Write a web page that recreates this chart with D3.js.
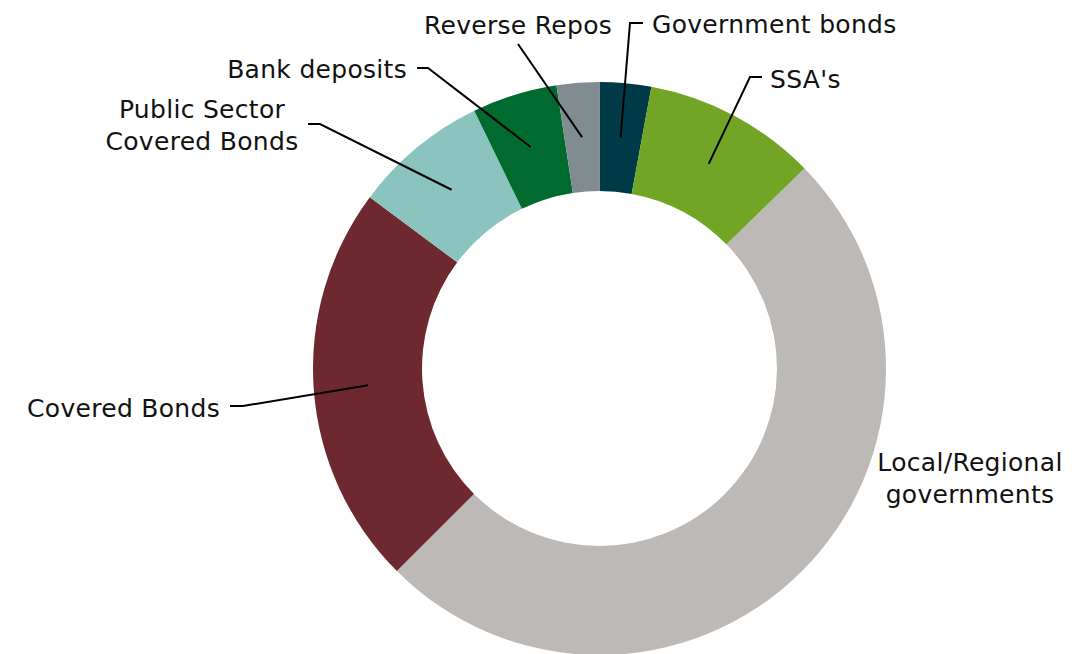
<!DOCTYPE html>
<html>
<head>
<meta charset="utf-8">
<script src="https://cdn.jsdelivr.net/npm/d3@7"></script>
<style>
  html, body { margin: 0; padding: 0; background: #ffffff; }
  svg { display: block; }
  text { font-family: "DejaVu Sans", sans-serif; font-size: 25px; fill: #111111; letter-spacing: 0.3px; }
</style>
</head>
<body>
<svg id="chart" width="1079" height="654"></svg>
<script>
// Data (shares in %, clockwise from 12 o'clock)
const categories = ["Government bonds", "SSA's", "Local/Regional governments", "Covered Bonds",
                    "Public Sector Covered Bonds", "Bank deposits", "Reverse Repos"];
const values = [2.9, 9.8, 49.8, 22.7, 7.6, 4.8, 2.4];
const colors = ["#003a46", "#72a525", "#bcb9b6", "#6e2930", "#8bc3bf", "#016b2f", "#808c90"];

// Label layout (presentation only)
const labelLines = [["Government bonds"], ["SSA's"], ["Local/Regional", "governments"], ["Covered Bonds"],
                    ["Public Sector", "Covered Bonds"], ["Bank deposits"], ["Reverse Repos"]];
const labelPos = [
  {x: 652, y: 33, anchor: "start", elbow: [630, 23], tick: [643, 23]},
  {x: 770, y: 88, anchor: "start", elbow: [750, 77], tick: [762, 77]},
  {x: 970, y: 471, anchor: "middle", elbow: null, tick: null},
  {x: 220, y: 417, anchor: "end", elbow: [243, 406], tick: [230, 406]},
  {x: 202, y: 118, anchor: "middle", elbow: [320, 124], tick: [308, 124]},
  {x: 407, y: 78, anchor: "end", elbow: [428, 68], tick: [417, 68]},
  {x: 518, y: 34, anchor: "middle", elbow: [518, 44], tick: null}
];

const svg = d3.select("#chart");
const cx = 599.5, cy = 368.5, rOuter = 286.5, rInner = 177.5;
const g = svg.append("g").attr("transform", `translate(${cx},${cy})`);

const data = categories.map((c, i) => ({name: c, value: values[i], i}));
const pie = d3.pie().value(d => d.value).sort(null);
const arc = d3.arc().innerRadius(rInner).outerRadius(rOuter);
const arcs = pie(data);

g.selectAll("path.slice").data(arcs).join("path")
  .attr("class", "slice")
  .attr("d", arc)
  .attr("fill", d => colors[d.data.i]);

// leader lines
const lines = svg.append("g");
arcs.forEach(a => {
  const p = labelPos[a.data.i];
  if (!p.elbow) return;
  const c = arc.centroid(a);
  const pts = [[cx + c[0], cy + c[1]], p.elbow];
  if (p.tick) pts.push(p.tick);
  lines.append("path")
    .attr("d", d3.line()(pts))
    .attr("fill", "none")
    .attr("stroke", "#000")
    .attr("stroke-width", 2);
});

// labels
const labels = svg.append("g");
arcs.forEach(a => {
  const p = labelPos[a.data.i];
  const t = labels.append("text")
    .attr("x", p.x).attr("y", p.y)
    .attr("text-anchor", p.anchor);
  labelLines[a.data.i].forEach((ln, k) => {
    t.append("tspan").attr("x", p.x).attr("dy", k === 0 ? 0 : 31.5).text(ln);
  });
});
</script>
</body>
</html>
